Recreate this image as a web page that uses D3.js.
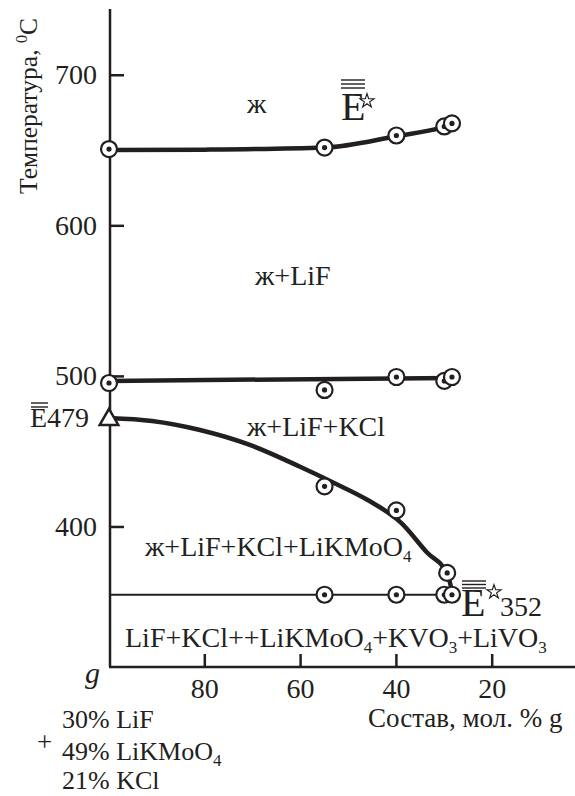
<!DOCTYPE html>
<html>
<head>
<meta charset="utf-8">
<script src="https://cdn.jsdelivr.net/npm/d3@7"></script>
<style>
  body { margin: 0; background: #fff; }
  text { font-family: "Liberation Serif", "Times New Roman", serif; fill: #231f20; }
</style>
</head>
<body>
<script>
// chart size
var width = 575;
var height = 796;

// composition axis (mol. % g) and temperature axis ticks
var xTicks = [80, 60, 40, 20];
var yTicks = [400, 500, 600, 700];

// upper liquidus (ж -> ж+LiF)
var upperX = [100, 55, 40, 30, 28.4];
var upperT = [651, 652, 660, 666, 668];
var upperFitX = [100, 80, 55, 40, 30, 28.4];
var upperFitT = [650.3, 650.6, 652, 659.5, 665.5, 667];

// second crystallisation (ж+LiF -> ж+LiF+KCl)
var midX = [100, 55, 40, 30, 28.4];
var midT = [495.6, 491, 499.6, 497, 499.6];
var midFitX = [100, 28.4];
var midFitT = [497, 499];

// third crystallisation curve (from E479 to E352)
var lowX = [55, 40, 29.4];
var lowT = [427, 411, 369.5];
var lowFitX = [100, 91, 81, 70.6, 60, 53, 46, 39, 33.6, 29.4, 28.2];
var lowFitT = [472.4, 470.4, 464.4, 454.5, 439.8, 429.2, 417.9, 402.7, 383, 369, 354.5];

// eutectic horizontal
var eutX = [55, 40, 30, 28.4];
var eutT = [355, 355, 355, 355];
var eutLineX = [100, 28.4];

// ternary eutectic point on the axis
var triX = 100;
var triT = 472;

var svg = d3.select('body').append('svg')
  .attr('width', width)
  .attr('height', height);

// scales: composition runs from 100 (left) down to 0
var x = d3.scaleLinear().domain([100, 0]).range([109, 588]);
var y = d3.scaleLinear().domain([307, 744]).range([667, 9]);

var ink = '#231f20';

// left axis line
svg.append('line')
  .attr('x1', 110).attr('x2', 110)
  .attr('y1', y(744)).attr('y2', y(307))
  .attr('stroke', ink).attr('stroke-width', 2.5);
// bottom axis line
svg.append('line')
  .attr('x1', 109).attr('x2', width)
  .attr('y1', y(307)).attr('y2', y(307))
  .attr('stroke', ink).attr('stroke-width', 2.5);

// y ticks point inward
svg.selectAll('.ytick').data(yTicks).enter().append('line')
  .attr('x1', 110).attr('x2', 124)
  .attr('y1', function(d) { return y(d); })
  .attr('y2', function(d) { return y(d); })
  .attr('stroke', ink).attr('stroke-width', 2.5);
svg.selectAll('.ylab').data(yTicks).enter().append('text')
  .attr('x', 97)
  .attr('y', function(d) { return y(d) + 9; })
  .attr('text-anchor', 'end')
  .style('font-size', '28px')
  .text(function(d) { return d; });

// x ticks point up
svg.selectAll('.xtick').data(xTicks).enter().append('line')
  .attr('x1', function(d) { return x(d); })
  .attr('x2', function(d) { return x(d); })
  .attr('y1', y(307)).attr('y2', y(307) - 13)
  .attr('stroke', ink).attr('stroke-width', 2.5);
svg.selectAll('.xlab').data(xTicks).enter().append('text')
  .attr('x', function(d) { return x(d); })
  .attr('y', 698)
  .attr('text-anchor', 'middle')
  .style('font-size', '28px')
  .text(function(d) { return d; });

// lines
var line = d3.line()
  .x(function(d) { return x(d[0]); })
  .y(function(d) { return y(d[1]); })
  .curve(d3.curveMonotoneX);

var zip = function(a, b) { return a.map(function(v, i) { return [v, b[i]]; }); };

svg.append('path').attr('d', line(zip(upperFitX, upperFitT)))
  .attr('fill', 'none').attr('stroke', ink).attr('stroke-width', 4.5);
svg.append('path').attr('d', line(zip(midFitX, midFitT)))
  .attr('fill', 'none').attr('stroke', ink).attr('stroke-width', 4.5);
svg.append('path').attr('d', line(zip(lowFitX, lowFitT)))
  .attr('fill', 'none').attr('stroke', ink).attr('stroke-width', 4.5);
svg.append('path').attr('d', line(zip(eutLineX, [eutT[0], eutT[0]])))
  .attr('fill', 'none').attr('stroke', ink).attr('stroke-width', 2);

// circle-dot markers
var markers = function(xs, ts) {
  var g = svg.append('g');
  zip(xs, ts).forEach(function(p) {
    g.append('circle')
      .attr('cx', x(p[0])).attr('cy', y(p[1])).attr('r', 8)
      .attr('fill', '#fff').attr('stroke', ink).attr('stroke-width', 2.2);
    g.append('circle')
      .attr('cx', x(p[0])).attr('cy', y(p[1])).attr('r', 2.6)
      .attr('fill', ink);
  });
};
markers(upperX, upperT);
markers(midX, midT);
markers(lowX, lowT);
markers(eutX, eutT);

// triangle
svg.append('path')
  .attr('d', d3.symbol(d3.symbolTriangle).size(150)())
  .attr('transform', 'translate(' + x(triX) + ',' + (y(triT) + 1) + ')')
  .attr('fill', '#fff').attr('stroke', ink).attr('stroke-width', 2.5);

// y axis title
var yt = svg.append('text')
  .attr('transform', 'translate(37,106) rotate(-90)')
  .attr('text-anchor', 'middle')
  .style('font-size', '25.5px');
yt.append('tspan').text('Температура, ');
yt.append('tspan').attr('dy', -10).style('font-size', '16px').text('0');
yt.append('tspan').attr('dy', 10).text('C');

// text with subscripts
var label = function(px, py, parts, size) {
  var t = svg.append('text').attr('x', px).attr('y', py).style('font-size', (size || 28) + 'px');
  var lowered = false;
  parts.forEach(function(p) {
    if (typeof p === 'string') {
      t.append('tspan').attr('dy', lowered ? -6 : 0).text(p);
      lowered = false;
    } else {
      t.append('tspan').attr('dy', 6).style('font-size', '17px').text(p.sub);
      lowered = true;
    }
  });
  return t;
};
label(247, 113, ['ж']);
label(255, 285, ['ж+LiF']);
label(247, 436, ['ж+LiF+KCl']);
label(145, 556, ['ж+LiF+KCl+LiKMoO', {sub: '4'}]);
label(125, 647, ['LiF+KCl++LiKMoO', {sub: '4'}, '+KVO', {sub: '3'}, '+LiVO', {sub: '3'}]);

// eutectic markings
var bars = function(x0, x1, ys) {
  ys.forEach(function(yy) {
    svg.append('line').attr('x1', x0).attr('x2', x1).attr('y1', yy).attr('y2', yy)
      .attr('stroke', ink).attr('stroke-width', 1.4);
  });
};
var star = function(cx, cy) {
  svg.append('path')
    .attr('d', d3.symbol(d3.symbolStar).size(60)())
    .attr('transform', 'translate(' + cx + ',' + cy + ')')
    .attr('fill', '#fff').attr('stroke', ink).attr('stroke-width', 1.2);
};
label(341, 120, ['E'], 40);
bars(341, 365, [80, 84, 88]);
star(367, 101);

label(30, 427, ['E479'], 28);
bars(31, 48, [403, 407]);

label(461, 616, ['E'], 40);
bars(462, 486, [581, 584.5, 588]);
star(494, 592);
label(500, 616, ['352'], 28);

// x axis annotations
svg.append('text').attr('x', 85).attr('y', 683)
  .style('font-size', '30px').style('font-style', 'italic').text('g');
svg.append('text').attr('x', 368).attr('y', 727)
  .style('font-size', '27px').text('Состав, мол. % g');

label(62, 728, ['30% LiF'], 26);
label(37, 751, ['+'], 27);
label(62, 760, ['49% LiKMoO', {sub: '4'}], 26);
label(62, 789, ['21% KCl'], 26);
</script>
</body>
</html>
